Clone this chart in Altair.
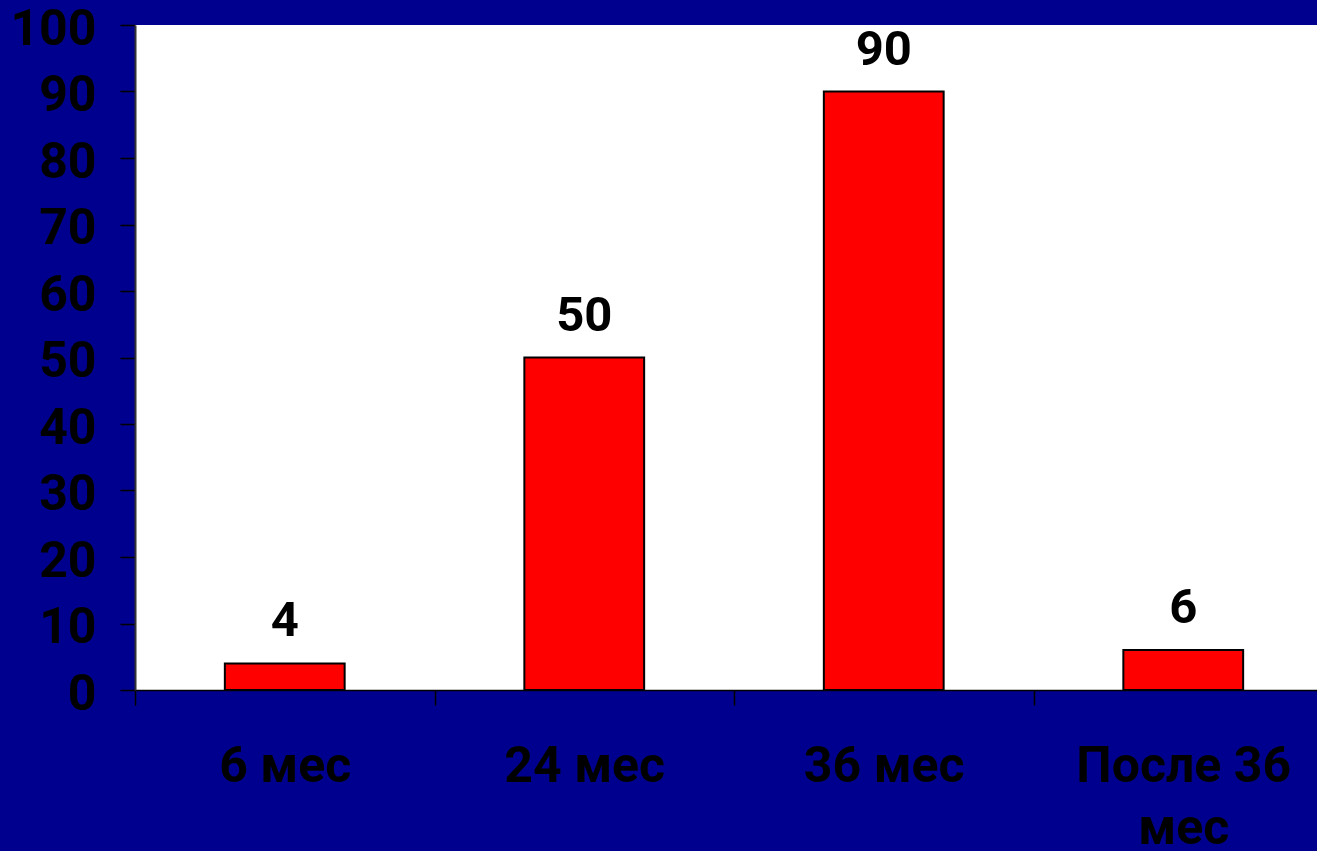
import altair as alt
import pandas as pd

categories = ["6 мес", "24 мес", "36 мес", "После 36 мес"]
values = [4, 50, 90, 6]

df = pd.DataFrame({"cat": categories, "val": values})

FONT = "Roboto"

x_enc = alt.X(
    "cat:N",
    sort=categories,
    scale=alt.Scale(paddingInner=0.6, paddingOuter=0.3, range=[0, 1198]),
    axis=alt.Axis(
        title=None,
        labelAngle=0,
        labelFont=FONT,
        labelFontSize=50,
        labelFontWeight="bold",
        labelColor="black",
        labelPadding=36,
        labelLineHeight=62,
        labelExpr="datum.label == 'После 36 мес' ? ['После 36', 'мес'] : datum.label",
        tickOffset=-149.75,
        labelOffset=149.75,
        tickSize=15,
        tickColor="black",
        tickWidth=1.5,
        domainColor="black",
        domainWidth=1.5,
        labelOverlap=False,
        labelLimit=400,
    ),
)

y_enc = alt.Y(
    "val:Q",
    scale=alt.Scale(domain=[0, 100], nice=False),
    axis=alt.Axis(
        title=None,
        values=list(range(0, 101, 10)),
        labelFont=FONT,
        labelFontSize=50,
        labelFontWeight="bold",
        labelColor="black",
        labelPadding=24,
        labelOffset=4,
        tickSize=15,
        tickColor="black",
        tickWidth=1.5,
        domainColor="#333333",
        domainWidth=2,
        grid=False,
    ),
)

bars = alt.Chart(df).mark_bar(
    color="#FF0000", stroke="black", strokeWidth=2
).encode(x=x_enc, y=y_enc)

labels = alt.Chart(df).mark_text(
    font=FONT, fontSize=49, fontWeight="bold", color="black",
    baseline="bottom", dy=-17
).encode(x=alt.X("cat:N", sort=categories), y="val:Q", text="val:Q")

chart = (
    alt.layer(bars, labels)
    .properties(
        width=1182,
        height=665,
        background="#00008E",
        padding={"left": 135, "top": 25, "right": 0, "bottom": 161},
        autosize=alt.AutoSizeParams(type="none"),
    )
    .configure_view(fill="white", stroke=None)
)

chart.save("out.html", embed_options={"renderer": "svg", "actions": False})
